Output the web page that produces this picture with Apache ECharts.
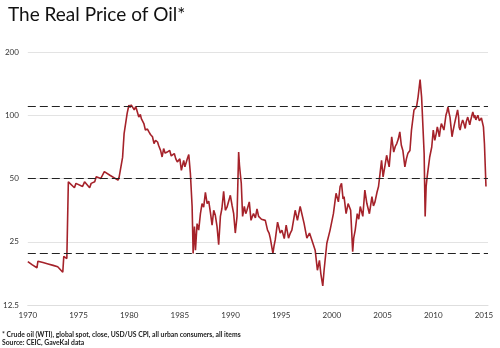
<!DOCTYPE html>
<html>
<head>
<meta charset="utf-8">
<script src="https://cdn.jsdelivr.net/npm/echarts@6/dist/echarts.min.js"></script>
<style>
  html, body { margin: 0; padding: 0; background: #fff; }
  #chart { width: 500px; height: 348px; }
</style>
</head>
<body>
<div id="chart"></div>
<script>
// Real WTI crude price (deflated by US CPI), sampled at the turning points of the series
const years = [
  1970.00, 1970.45, 1970.90, 1971.00, 1971.50, 1972.00, 1972.50, 1972.95, 1973.45, 1973.55, 1973.85,
  1974.00, 1974.60, 1974.75, 1975.40, 1975.60, 1976.10, 1976.25, 1976.60, 1976.75, 1977.20, 1977.55,
  1978.10, 1978.90, 1979.00, 1979.15, 1979.35, 1979.50, 1979.80, 1979.97, 1980.10, 1980.20, 1980.30,
  1980.50, 1980.65, 1980.80, 1980.95, 1981.10, 1981.20, 1981.30, 1981.45, 1981.60, 1981.80, 1981.95,
  1982.10, 1982.30, 1982.45, 1982.60, 1982.80, 1982.90, 1983.10, 1983.25, 1983.40, 1983.55, 1983.75,
  1984.00, 1984.15, 1984.25, 1984.45, 1984.60, 1984.75,
  1985.00, 1985.15, 1985.38, 1985.50, 1985.72, 1985.88, 1986.04, 1986.21, 1986.31, 1986.44,
  1986.54, 1986.70, 1986.86, 1987.03, 1987.19, 1987.35, 1987.52, 1987.69, 1987.85, 1988.01,
  1988.18, 1988.34, 1988.50, 1988.67, 1988.83, 1989.00, 1989.15, 1989.32, 1989.49, 1989.65,
  1989.81, 1989.98, 1990.15, 1990.31, 1990.47, 1990.64, 1990.80, 1990.88, 1990.96, 1991.06,
  1991.19, 1991.36, 1991.50, 1991.62, 1991.85, 1992.02, 1992.15, 1992.27, 1992.45, 1992.61,
  1992.77, 1992.93, 1993.05, 1993.20, 1993.43, 1993.65, 1993.80, 1993.92, 1994.18, 1994.30,
  1994.41, 1994.64, 1994.90, 1995.07, 1995.30, 1995.49, 1995.72, 1995.90, 1996.05, 1996.38,
  1996.60, 1996.87, 1997.04, 1997.26, 1997.53, 1997.79, 1998.02, 1998.35, 1998.57, 1998.77,
  1998.91, 1999.10, 1999.23, 1999.50, 1999.82, 2000.15, 2000.41, 2000.64, 2000.81, 2000.95,
  2001.10, 2001.20, 2001.40, 2001.60, 2001.85, 2002.05, 2002.15, 2002.30, 2002.50, 2002.65,
  2002.80, 2003.05, 2003.25, 2003.45, 2003.70, 2003.95, 2004.10, 2004.25, 2004.45, 2004.60,
  2004.75, 2004.90, 2005.05, 2005.25, 2005.40, 2005.65, 2005.90, 2006.10, 2006.25, 2006.40,
  2006.55, 2006.70, 2006.85, 2007.00, 2007.20, 2007.35, 2007.50, 2007.70, 2007.85, 2008.10,
  2008.35, 2008.50, 2008.70, 2008.85, 2009.10, 2009.20, 2009.30, 2009.40, 2009.55, 2009.65,
  2009.85, 2010.00, 2010.15, 2010.30, 2010.40, 2010.50, 2010.60, 2010.70, 2010.80, 2011.05,
  2011.15, 2011.25, 2011.35, 2011.45, 2011.55, 2011.65, 2011.75, 2011.85, 2011.95, 2012.10,
  2012.20, 2012.30, 2012.40, 2012.50, 2012.55, 2012.65, 2012.75, 2012.90, 2013.00, 2013.15,
  2013.25, 2013.40, 2013.50, 2013.60, 2013.70, 2013.75, 2013.90, 2014.05, 2014.10, 2014.20,
  2014.30, 2014.40, 2014.50, 2014.55, 2014.65, 2014.75, 2014.85, 2014.95, 2015.05, 2015.20
];
const prices = [
  20.1, 19.4, 18.8, 20.2, 19.9, 19.6, 19.3, 19.0, 17.9, 21.3, 20.8,
  48.2, 45.2, 47.4, 45.8, 48.2, 45.2, 47.4, 48.2, 51.0, 50.0, 53.9,
  51.8, 49.1, 50.5, 50.9, 63.0, 81.8, 102, 111.6, 109, 112, 111.6,
  106, 110, 108, 98, 101, 96.4, 98, 91.3, 85, 86, 83.3,
  81, 79, 73.3, 76, 74.6, 72, 68, 63.3, 69.4, 66, 66.8,
  68, 64, 63.3, 65.7, 62, 60,
  62, 54.7, 61, 56.8, 61.7, 65, 52.8, 36.8, 22, 29.5,
  22.8, 30.5, 28.4, 34, 38, 36.5, 43, 38, 39, 34.6,
  30, 35.3, 33.4, 29.5, 24.2, 33, 36, 43.5, 35.3, 36.5,
  37.3, 41.6, 37.3, 34, 27.5, 33, 66.8, 58, 52.8, 47.4,
  33, 36.8, 34, 35.3, 38.7, 31.6, 33, 34, 32.5, 35.8,
  33, 33.5, 32, 31.6, 31.6, 28.4, 27.5, 26, 22, 24,
  25.5, 31, 27.5, 28.4, 25.9, 30, 26, 27.5, 28.4, 35.3,
  31.6, 36.8, 37.3, 30.5, 26, 27.5, 25.5, 22.8, 18.3, 20.4,
  17.6, 15.4, 18.3, 24.6, 28.4, 34, 42.5, 38.7, 45.8, 47.4,
  40, 41, 34, 38, 35.3, 22.4, 26, 28.4, 34, 32,
  36.8, 33, 44, 38, 34, 41, 37, 38.7, 43, 45.8,
  52.8, 61, 50.9, 58, 64.5, 56.8, 79, 66.8, 71, 73.3,
  77, 83.3, 72, 68, 56.8, 62, 66, 68, 85, 106,
  109.5, 122, 148, 122, 65.7, 33, 46, 51, 58, 63.3,
  70.6, 85, 76, 82, 88, 84, 79, 86, 91.3, 85,
  92, 100, 104, 109.5, 103, 98, 88, 79, 84, 91.3,
  96, 101, 106, 98, 88, 85, 90, 95, 92, 86.5,
  93, 98, 94, 90, 95, 96, 103.7, 97, 100, 95,
  96, 100, 98, 94, 95, 97, 98, 88, 73, 45.8
];
// Horizontal reference levels (dashed)
const refLevels = [110, 50, 22];
// Log-2 value axis, labelled in price terms
const yTickLabels = ['12.5', '25', '50', '100', '200'];
const yBase = 12.5;
const xTickYears = [1970, 1975, 1980, 1985, 1990, 1995, 2000, 2005, 2010, 2015];

const toLog = v => Math.log2(v / yBase);
const seriesData = years.map((y, i) => [y, toLog(prices[i])]);

const chart = echarts.init(document.getElementById('chart'), null, { renderer: 'canvas' });
const labelFont = 'Lato, "Open Sans", sans-serif';

chart.setOption({
  animation: false,
  backgroundColor: '#ffffff',
  title: {
    text: 'The Real Price of Oil*',
    left: 3,
    top: 0,
    textStyle: { fontFamily: labelFont, fontSize: 19, fontWeight: 'normal', color: '#111' }
  },
  grid: { left: 27, right: 12, top: 52, bottom: 43, containLabel: false },
  xAxis: {
    type: 'value',
    min: 1970,
    max: 2015.4,
    interval: 5,
    axisLine: { show: true, lineStyle: { color: '#dedede', width: 1 } },
    axisTick: { show: false },
    splitLine: { show: false },
    axisLabel: {
      color: '#333', fontSize: 8, fontFamily: labelFont, margin: 6,
      showMinLabel: true,
      showMaxLabel: false,
      formatter: v => (xTickYears.indexOf(Math.round(v)) >= 0 && Math.abs(v - Math.round(v)) < 1e-6 ? String(Math.round(v)) : '')
    }
  },
  yAxis: {
    type: 'value',
    min: 0,
    max: 4,
    interval: 1,
    axisLine: { show: false },
    axisTick: { show: false },
    splitLine: { show: true, lineStyle: { color: '#e3e3e3', width: 1 } },
    axisLabel: {
      color: '#333', fontSize: 8, fontFamily: labelFont, margin: 9,
      formatter: v => yTickLabels[Math.round(v)]
    }
  },
  graphic: [
    {
      type: 'text', left: 2, top: 331,
      style: {
        text: '* Crude oil (WTI), global spot, close, USD/US CPI, all urban consumers, all items',
        fontSize: 6.8, fontWeight: 'bold', fontFamily: labelFont, fill: '#222'
      }
    },
    {
      type: 'text', left: 2, top: 339.5,
      style: {
        text: 'Source: CEIC, GaveKal data',
        fontSize: 6.8, fontWeight: 'bold', fontFamily: labelFont, fill: '#222'
      }
    }
  ],
  series: [{
    type: 'line',
    data: seriesData,
    symbol: 'none',
    lineStyle: { color: '#A5222A', width: 1.6 },
    z: 3,
    markLine: {
      silent: true,
      symbol: 'none',
      label: { show: false },
      lineStyle: { color: '#222', width: 1.2, type: [8, 4] },
      data: refLevels.map(v => ({ yAxis: toLog(v) }))
    }
  }]
});
</script>
</body>
</html>
